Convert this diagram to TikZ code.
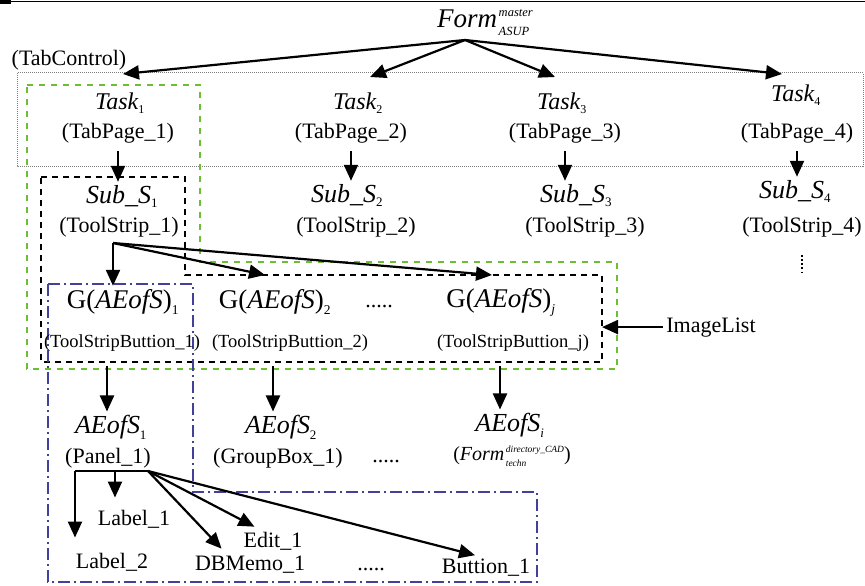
\documentclass[tikz,border=0pt]{standalone}
\usepackage{amsmath}
\usepackage{fontspec}
\setmainfont{Liberation Serif}
\usetikzlibrary{arrows.meta}
\definecolor{tabgreen}{RGB}{110,190,50}
\definecolor{tabblue}{RGB}{65,65,155}
\tikzset{
  frm/.style={font=\fontsize{27}{30}\selectfont, inner sep=3pt},
  tsk/.style={font=\fontsize{24}{28}\selectfont, inner sep=3pt},
  it/.style={font=\fontsize{26}{30}\selectfont, inner sep=3pt},
  gx/.style={font=\fontsize{27}{30}\selectfont, inner sep=3pt},
  rm/.style={font=\fontsize{22}{26}\selectfont, inner sep=3pt},
  btn/.style={font=\fontsize{18.5}{22}\selectfont, inner sep=3pt},
  arr/.style={line width=2.2pt, -{Triangle[length=16pt,width=14pt]}},
  grp/.style={tabgreen, line width=2.5pt, dash pattern=on 6pt off 6pt},
  blk/.style={black, line width=2.5pt, dash pattern=on 6pt off 5pt},
  blu/.style={tabblue, line width=2.5pt, dash pattern=on 12pt off 4pt on 2pt off 4pt},
}
\newcommand\lsub[1]{_{\scriptscriptstyle\text{#1}}}
% stacked super/subscript: size, line skip, drop, upper, lower
\newcommand\stk[5]{\kern1.5pt\raisebox{-#3}{\fontsize{#1}{#2}\selectfont\itshape
  \begin{tabular}[b]{@{}l@{}}#4\\#5\end{tabular}}}
\begin{document}
\begin{tikzpicture}[x=1pt,y=-1pt]
\useasboundingbox (0,0) rectangle (865,586);
% page rule
\draw[line width=1.2pt] (0,1.5) -- (865,1.5);
\fill (0,0) rectangle (11,4);

% groups
\draw[gray, line width=1pt, dash pattern=on 1pt off 1pt] (17,73) rectangle (863,166);
\draw[grp] (27,85) -- (200,85) -- (200,262) -- (617,262) -- (617,369) -- (27,369) -- cycle;
\draw[blk] (41,177) -- (185,177) -- (185,275) -- (602,275) -- (602,362) -- (41,362) -- cycle;
\draw[blu] (48,284) -- (193,284) -- (193,492) -- (537,492) -- (537,582) -- (48,582) -- cycle;

% form and tabs
\node[frm, anchor=base] (form) at (485,28) {\textit{Form\/}\stk{12.5}{19}{8pt}{master}{ASUP}};
\node[rm, anchor=base] (tabctl) at (69,66) {(TabControl)};
\node[tsk, anchor=base] (t1) at (120,110) {$\textit{Task}\lsub{1}$};
\node[tsk, anchor=base] (t2) at (358,110) {$\textit{Task}\lsub{2}$};
\node[tsk, anchor=base] (t3) at (562,110) {$\textit{Task}\lsub{3}$};
\node[tsk, anchor=base] (t4) at (796,102) {$\textit{Task}\lsub{4}$};
\node[rm, anchor=base] (tp1) at (118,138) {(TabPage\_1)};
\node[rm, anchor=base] (tp2) at (351,138) {(TabPage\_2)};
\node[rm, anchor=base] (tp3) at (565,138) {(TabPage\_3)};
\node[rm, anchor=base] (tp4) at (797,138) {(TabPage\_4)};

% tool strips
\node[it, anchor=base] (ss1) at (122,203) {$\textit{Sub\_S}\lsub{1}$};
\node[it, anchor=base] (ss2) at (347,202) {$\textit{Sub\_S}\lsub{2}$};
\node[it, anchor=base] (ss3) at (576,202) {$\textit{Sub\_S}\lsub{3}$};
\node[it, anchor=base] (ss4) at (795,198) {$\textit{Sub\_S}\lsub{4}$};
\node[rm, anchor=base] (ts1) at (119,232) {(ToolStrip\_1)};
\node[rm, anchor=base] (ts2) at (356,232) {(ToolStrip\_2)};
\node[rm, anchor=base] (ts3) at (585,232) {(ToolStrip\_3)};
\node[rm, anchor=base] (ts4) at (802,232) {(ToolStrip\_4)};

% buttons
\node[gx, anchor=base] (g1) at (123,308) {$\text{G(}\textit{AEofS}\text{)}\lsub{1}$};
\node[gx, anchor=base] (g2) at (275,308) {$\text{G(}\textit{AEofS}\text{)}\lsub{2}$};
\node[gx, anchor=base] (gj) at (501,307) {$\text{G(}\textit{AEofS}\text{)}\lsub{\itshape j}$};
\node[rm, anchor=base] (dots1) at (379,307) {.....};
\node[btn, anchor=base] (b1) at (122,347) {(ToolStripButtion\_1)};
\node[btn, anchor=base] (b2) at (290,347) {(ToolStripButtion\_2)};
\node[btn, anchor=base] (bj) at (513,347) {(ToolStripButtion\_j)};
\node[rm, anchor=base] (il) at (711,332) {ImageList};

% elements
\node[it, anchor=base] (a1) at (111,433) {$\textit{AEofS}\lsub{1}$};
\node[it, anchor=base] (a2) at (281,433) {$\textit{AEofS}\lsub{2}$};
\node[it, anchor=base] (ai) at (510,431) {$\textit{AEofS}\lsub{\itshape i}$};
\node[rm, anchor=base] (p1) at (108,463) {(Panel\_1)};
\node[rm, anchor=base] (gb1) at (278,463) {(GroupBox\_1)};
\node[rm, anchor=base] (dots2) at (386,462) {.....};
\node[font=\fontsize{20}{24}\selectfont, inner sep=3pt, anchor=base] (ft) at (512,460)
  {(\textit{Form\/}\stk{9.5}{13.5}{6pt}{directory\_CAD}{techn})};

% panel controls
\node[rm, anchor=base] (l1) at (134,525) {Label\_1};
\node[rm, anchor=base] (e1) at (273,547) {Edit\_1};
\node[rm, anchor=base] (l2) at (112,568) {Label\_2};
\node[rm, anchor=base] (db) at (250,570) {DBMemo\_1};
\node[rm, anchor=base] (dots3) at (371,570) {.....};
\node[rm, anchor=base] (bt) at (486,573) {Buttion\_1};

% arrows
\coordinate (fork) at (465,40);
\coordinate (in1) at (123,74);
\coordinate (in2) at (370,77);
\coordinate (in3) at (555,77);
\coordinate (in4) at (782,74);
\foreach \i in {1,...,4}{
  \draw[arr] (fork) -- (in\i);
  \draw[arr, shorten <=5pt] (tp\i.south) -- (tp\i.south |- ss\i.north);
}
\draw[line width=1.5pt, dash pattern=on 1.8pt off 2.4pt] ([yshift=-15pt]ts4.south) -- ([yshift=-32pt]ts4.south);

\coordinate (tsfork) at (113,243);
\coordinate (gin2) at (265,275);
\coordinate (ginj) at (492,275);
\draw[arr] (tsfork) -- (tsfork |- g1.north);
\draw[arr] (tsfork) -- (gin2);
\draw[arr] (tsfork) -- (ginj);
\coordinate (boxr) at (602,323);
\draw[arr] (il.west) -- (il.west -| boxr);

\coordinate (o1) at (107,366);
\coordinate (o2) at (273,366);
\coordinate (oi) at (500,366);
\draw[arr] (o1) -- (o1 |- a1.north);
\draw[arr] (o2) -- (o2 |- a2.north);
\draw[arr] (oi) -- (oi |- ai.north);

\coordinate (pl) at (75,471);
\coordinate (pm) at (115,471);
\coordinate (pr) at (148,471);
\draw[line width=2.2pt] (pl) -- (pr);
\draw[arr, shorten >=12pt] (pl) -- (pl |- l2.north);
\draw[arr, shorten >=9pt] (pm) -- (pm |- l1.north);
\draw[arr, shorten >=5pt] (pr) -- ([xshift=-25pt]db.north);
\draw[arr, shorten >=4pt] (pr) -- ([xshift=-15pt]e1.north);
\draw[arr] (pr) -- ([xshift=-11pt]bt.north);
\end{tikzpicture}
\end{document}
